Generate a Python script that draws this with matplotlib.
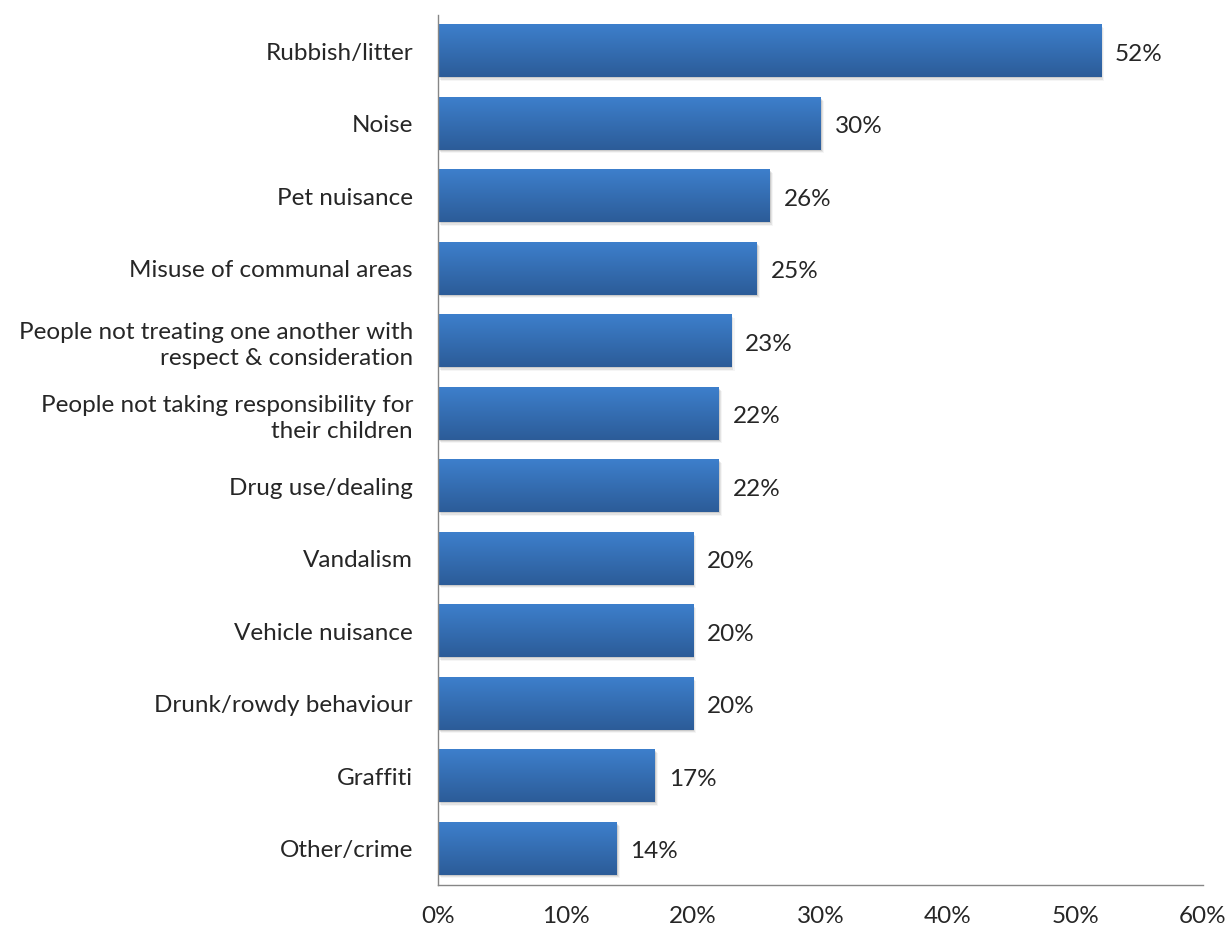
import matplotlib
matplotlib.use("Agg")
import matplotlib.pyplot as plt
import matplotlib.transforms as mtransforms
import numpy as np

plt.rcParams['font.family'] = ['Lato', 'DejaVu Sans']

# survey results, % of respondents
categories = ["Rubbish/litter", "Noise", "Pet nuisance", "Misuse of communal areas",
              "People not treating one another with\nrespect & consideration",
              "People not taking responsibility for\ntheir children",
              "Drug use/dealing", "Vandalism", "Vehicle nuisance",
              "Drunk/rowdy behaviour", "Graffiti", "Other/crime"]
values = [52, 30, 26, 25, 23, 22, 22, 20, 20, 20, 17, 14]
xticks = [0, 10, 20, 30, 40, 50, 60]

fs = 17.5
fig = plt.figure(figsize=(12.31, 9.34), dpi=100)
ax = fig.add_axes([0.3558, 0.0525, 0.6215, 0.9315])

# vertical gradient, light blue at top to dark blue at bottom
top = np.array([0x3d, 0x7f, 0xcc]) / 255
bot = np.array([0x2c, 0x5c, 0x98]) / 255
t = np.linspace(0, 1, 64)[:, None]
grad = (top[None, :] * (1 - t) + bot[None, :] * t)[:, None, :]

h = 0.72
ypos = np.arange(len(categories))
for y, v in zip(ypos, values):
    # soft drop shadow
    for k, a in zip(range(1, 4), [0.10, 0.07, 0.04]):
        off = mtransforms.offset_copy(ax.transData, fig=fig, x=k * 0.8, y=-k * 0.8, units='points')
        ax.add_patch(plt.Rectangle((0, y - h / 2), v, h, facecolor='black', alpha=a,
                                   edgecolor='none', transform=off, zorder=1))
    ax.imshow(grad, extent=[0, v, y + h / 2, y - h / 2], aspect='auto', zorder=2,
              interpolation='bilinear')
    ax.text(v + 1.1, y + 0.04, f"{v}%", va='center', ha='left', fontsize=fs, color='#262626')

ax.set_xlim(0, 60)
ax.set_ylim(len(categories) - 0.5, -0.5)
ax.set_xticks(xticks)
ax.set_xticklabels([f"{x}%" for x in xticks], fontsize=fs, color='#262626')
ax.set_yticks(ypos)
ax.set_yticklabels(categories, fontsize=fs, color='#262626', ha='right', linespacing=1.3)
ax.tick_params(axis='both', length=0)
ax.tick_params(axis='y', pad=18)
ax.tick_params(axis='x', pad=15)
for s in ['top', 'right']:
    ax.spines[s].set_visible(False)
for s in ['left', 'bottom']:
    ax.spines[s].set_color('#868686')
    ax.spines[s].set_linewidth(1.0)

fig.savefig("out.png", dpi=100)
